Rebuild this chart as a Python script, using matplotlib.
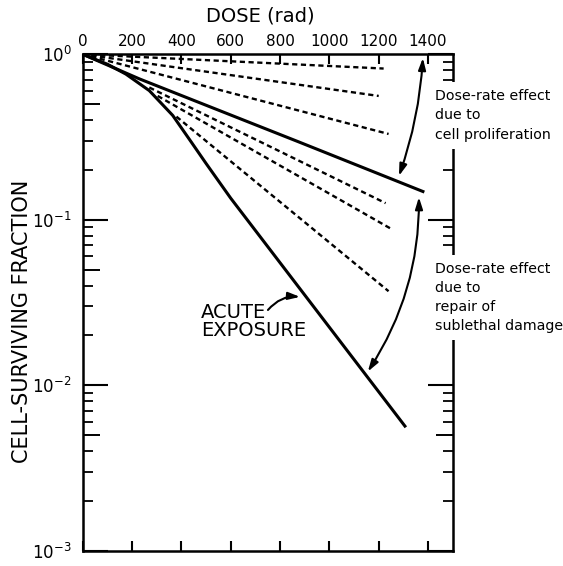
import matplotlib
matplotlib.use("Agg")
import matplotlib.pyplot as plt
from matplotlib.ticker import FixedLocator, NullFormatter, NullLocator


# -----------------------------
# Data
# -----------------------------
acute_dose = [0, 100, 175, 270, 365, 440, 500, 600, 1310]
acute_sf = [1.0, 0.871, 0.759, 0.603, 0.427, 0.295, 0.219, 0.135, 0.00557]

limit_dose = [0, 230, 877, 1385]
limit_sf = [1.0, 0.71, 0.295, 0.147]

# dashed lines: dose-rate effect due to cell proliferation (start at origin)
prolif_start_dose = [0, 0, 0]
prolif_start_sf = [1.0, 1.0, 1.0]
prolif_end_dose = [1220, 1200, 1240]
prolif_end_sf = [0.82, 0.56, 0.33]

# dashed lines: repair of sublethal damage (branch off the acute curve)
repair_start_dose = [270, 304, 380]
repair_start_sf = [0.63, 0.56, 0.42]
repair_end_dose = [1228, 1257, 1240]
repair_end_sf = [0.126, 0.087, 0.037]

dose_ticks = [0, 200, 400, 600, 800, 1000, 1200, 1400]
dose_labels = ["0", "200", "400", "600", "800", "1000", "1200", "1400"]
decades = [1e-3, 1e-2, 1e-1, 1.0]
decade_labels = [r"$10^{-3}$", r"$10^{-2}$", r"$10^{-1}$", r"$10^{0}$"]
mid_ticks = [5e-3, 5e-2, 5e-1]
minor_ticks = [m * d for d in [1e-3, 1e-2, 1e-1] for m in [2, 3, 4, 6, 7, 8, 9]]


# -----------------------------
# Axes setup
# -----------------------------
def setup_axes(fig):
    ax = fig.add_axes([0.1469, 0.0270, 0.6572, 0.8771])
    ax_mid = ax.twinx()

    ax.set_xlim(0, 1500)
    ax.set_yscale("log")
    ax.set_ylim(1e-3, 1)
    ax_mid.set_yscale("log")
    ax_mid.set_ylim(1e-3, 1)

    # x: labels on top, ticks inward on both sides
    ax.set_xticks(dose_ticks, labels=dose_labels)
    ax.tick_params(axis="x", which="both", top=True, bottom=True,
                   labeltop=True, labelbottom=False, direction="in",
                   length=7, width=1.5, pad=4, labelsize=11)

    # y: decades long, 5's medium, rest short
    ax.set_yticks(decades, labels=decade_labels)
    ax.yaxis.set_minor_locator(FixedLocator(minor_ticks))
    ax.yaxis.set_minor_formatter(NullFormatter())
    ax.tick_params(axis="y", which="major", left=True, right=True,
                   direction="in", length=18, width=1.5, labelsize=12, pad=8)
    ax.tick_params(axis="y", which="minor", left=True, right=True,
                   direction="in", length=7, width=1.3)

    ax_mid.set_yticks(mid_ticks)
    ax_mid.yaxis.set_minor_locator(NullLocator())
    ax_mid.tick_params(axis="y", which="both", left=True, right=True,
                       labelleft=False, labelright=False, direction="in",
                       length=12, width=1.4)
    for s in ax_mid.spines.values():
        s.set_visible(False)

    for s in ax.spines.values():
        s.set_linewidth(1.8)

    ax.set_zorder(ax_mid.get_zorder() + 1)
    ax.patch.set_visible(False)

    ax.set_xlabel("DOSE (rad)", fontsize=14)
    ax.xaxis.set_label_position("top")
    ax.xaxis.set_label_coords(0.479, 1.067)
    ax.set_ylabel("CELL-SURVIVING FRACTION", fontsize=15)
    ax.yaxis.set_label_coords(-0.138, 0.461)
    return ax


# -----------------------------
# Curves
# -----------------------------
def draw_curves(ax):
    ax.plot(acute_dose, acute_sf, color="black", lw=2.2, solid_capstyle="butt")
    ax.plot(limit_dose, limit_sf, color="black", lw=2.2, solid_capstyle="butt")

    for x0, y0, x1, y1 in zip(prolif_start_dose, prolif_start_sf,
                              prolif_end_dose, prolif_end_sf):
        ax.plot([x0, x1], [y0, y1], color="black", lw=1.7,
                linestyle=(0, (2.2, 1.5)))

    for x0, y0, x1, y1 in zip(repair_start_dose, repair_start_sf,
                              repair_end_dose, repair_end_sf):
        ax.plot([x0, x1], [y0, y1], color="black", lw=1.7,
                linestyle=(0, (2.2, 1.5)))


# -----------------------------
# Annotations
# -----------------------------
def draw_annotations(ax):
    box = dict(facecolor="white", edgecolor="none", pad=5)

    ax.text(1428, 0.62, "Dose-rate effect\ndue to\ncell proliferation",
            ha="left", va="top", fontsize=10.2, linespacing=1.5,
            bbox=box, clip_on=False, zorder=5)
    ax.text(1428, 0.0555, "Dose-rate effect\ndue to\nrepair of\nsublethal damage",
            ha="left", va="top", fontsize=10.2, linespacing=1.45,
            bbox=box, clip_on=False, zorder=5)

    two_way = dict(arrowstyle="<|-|>,head_length=0.7,head_width=0.22",
                   color="black", lw=1.5, shrinkA=0, shrinkB=0)
    ax.annotate("", xy=(1282, 0.184), xytext=(1379, 0.95),
                arrowprops=dict(two_way, connectionstyle="arc3,rad=-0.07"))
    ax.annotate("", xy=(1156, 0.0121), xytext=(1363, 0.137),
                arrowprops=dict(two_way, connectionstyle="arc3,rad=-0.15"))

    ax.text(480, 0.0314, "ACUTE\nEXPOSURE", ha="left", va="top",
            fontsize=14, linespacing=0.9)
    ax.annotate("", xy=(881, 0.0342), xytext=(751, 0.0285),
                arrowprops=dict(arrowstyle="-|>,head_length=0.7,head_width=0.22",
                                color="black", lw=1.5, shrinkA=0, shrinkB=0,
                                connectionstyle="arc3,rad=-0.25"))


# -----------------------------
# Main
# -----------------------------
def main():
    fig = plt.figure(figsize=(5.63, 5.66), dpi=100)
    ax = setup_axes(fig)
    draw_curves(ax)
    draw_annotations(ax)
    fig.savefig("out.png", dpi=100, facecolor="white")


if __name__ == "__main__":
    main()
